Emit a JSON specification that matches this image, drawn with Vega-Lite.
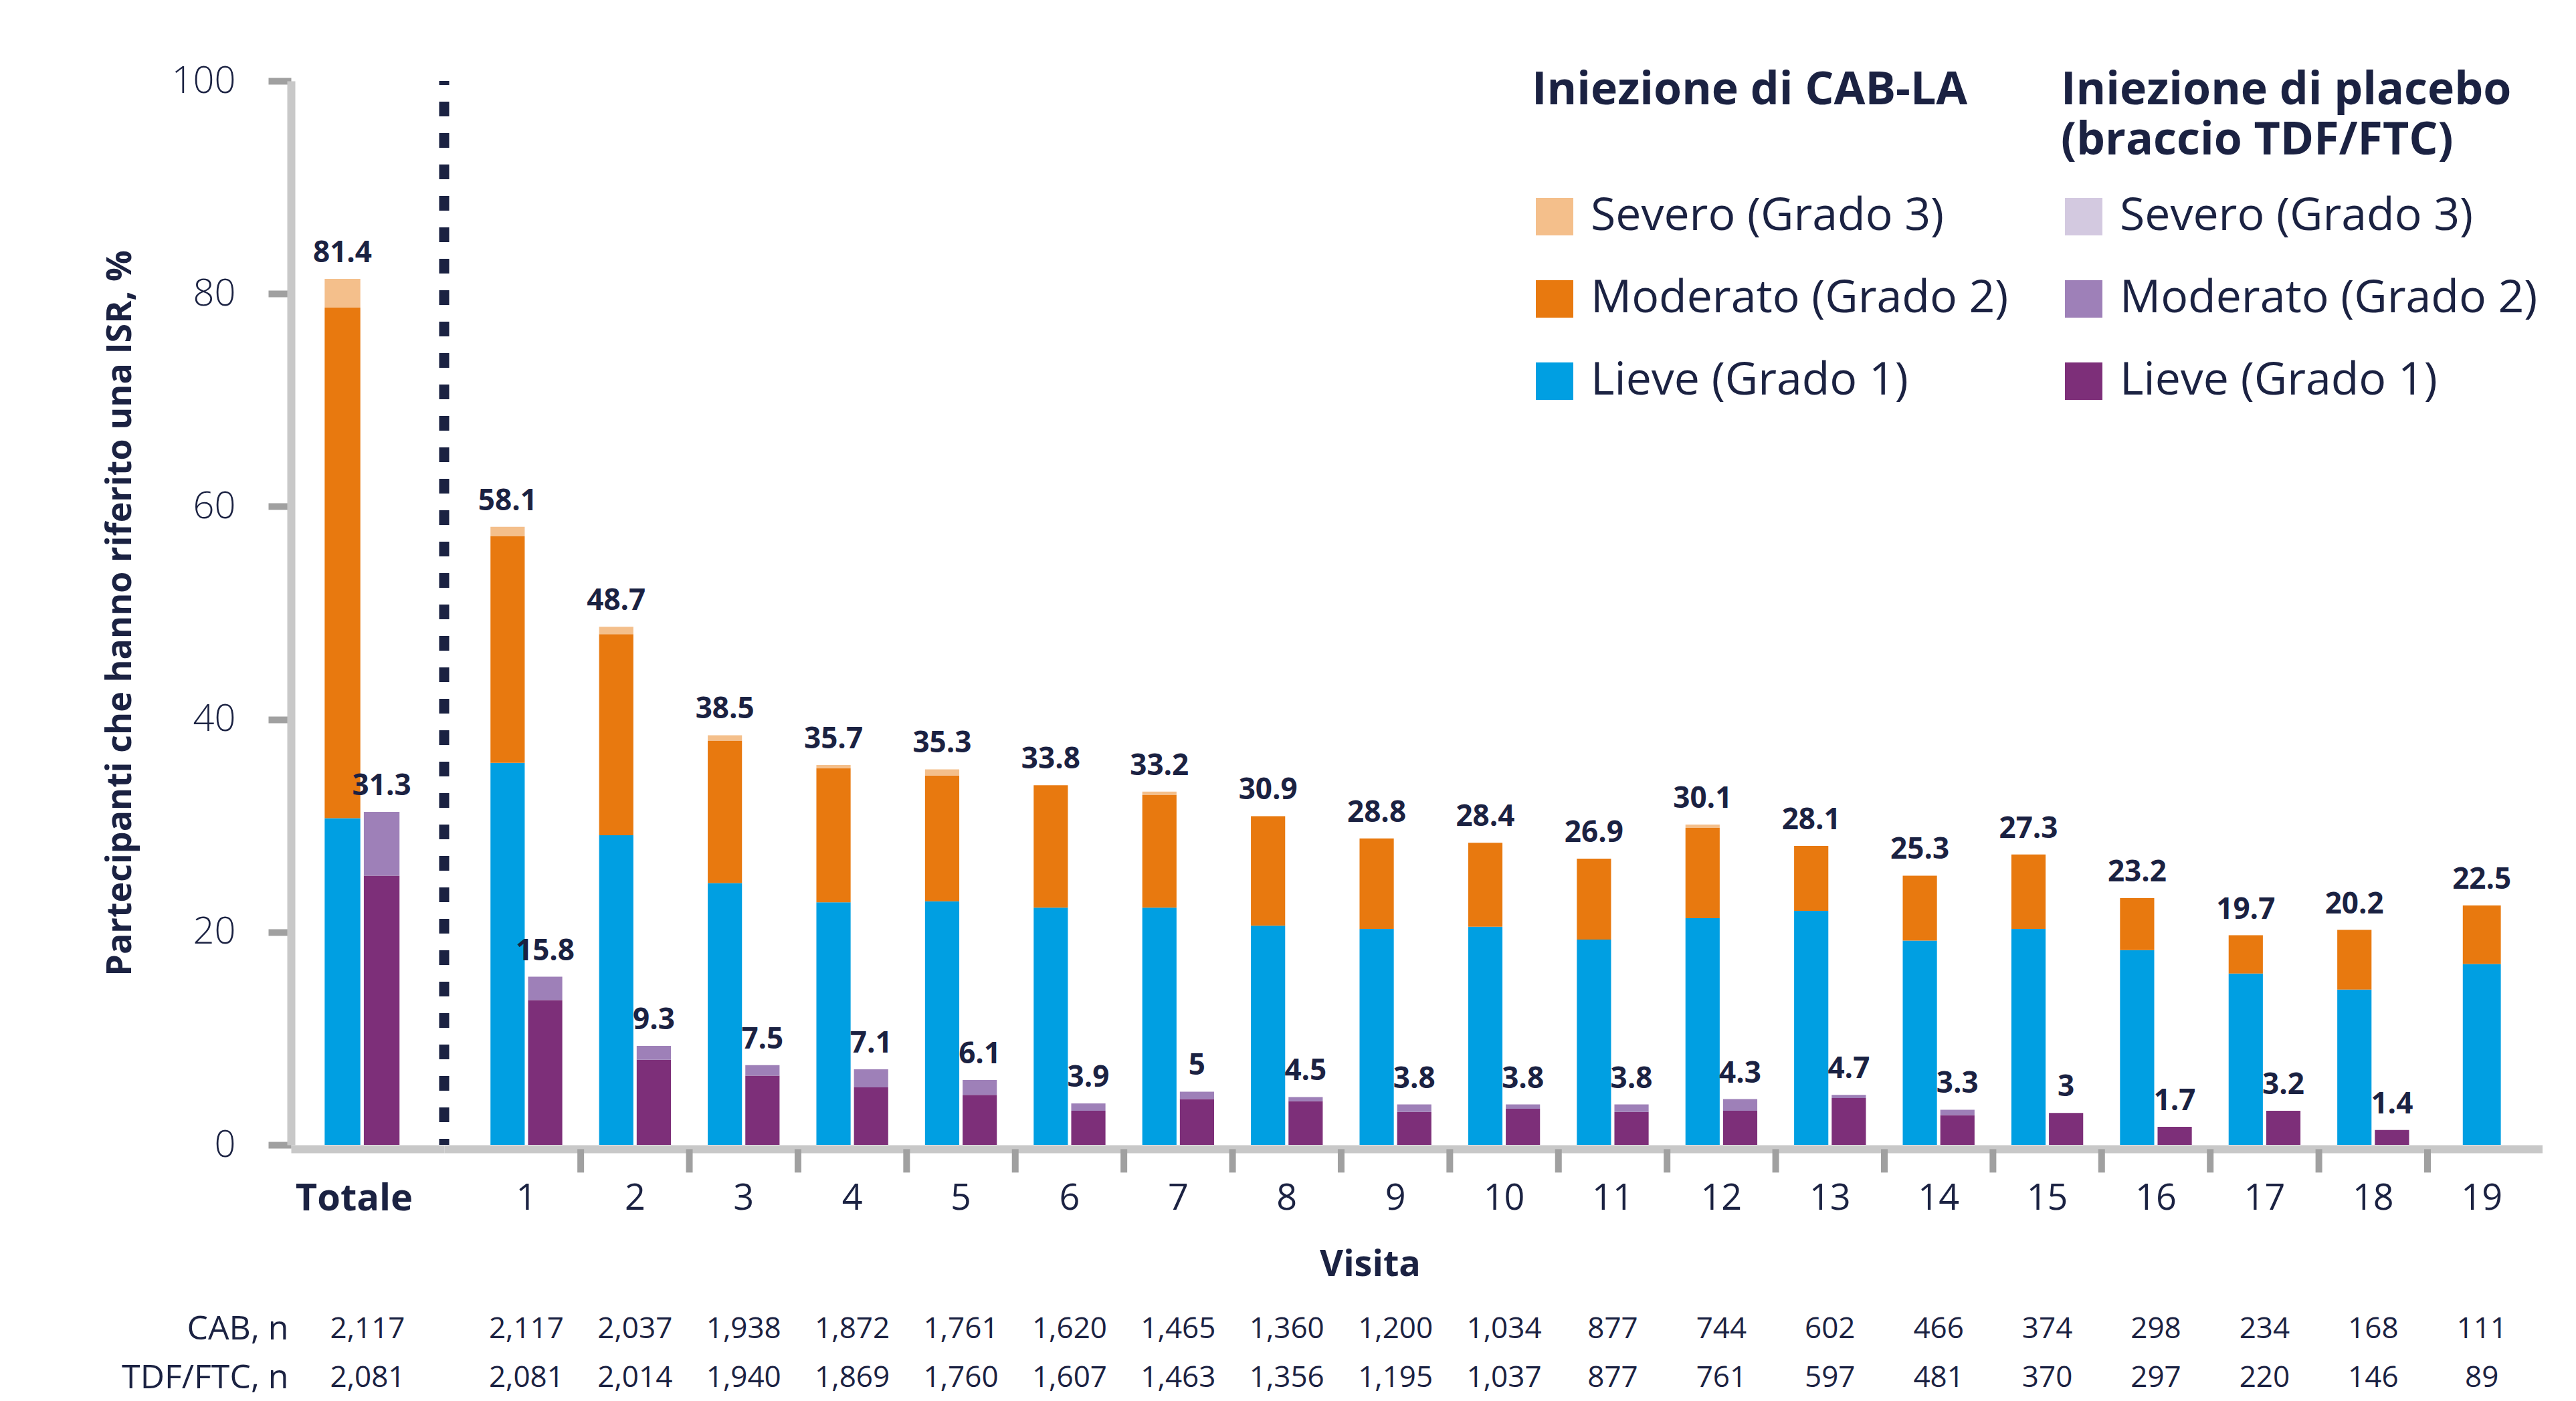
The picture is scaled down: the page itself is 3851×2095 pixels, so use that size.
{
  "$schema": "https://vega.github.io/schema/vega-lite/v6.json",
  "background": "white",
  "padding": {"left": 153, "top": 93, "right": 0, "bottom": 0},
  "config": {
    "font": "Open Sans",
    "view": {"stroke": null},
    "text": {"color": "#1b2242"},
    "axis": {"labelColor": "#1b2242", "titleColor": "#1b2242", "grid": false},
    "legend": {
      "orient": "none",
      "symbolType": "square",
      "symbolSize": 3136,
      "symbolStrokeWidth": 0,
      "symbolOpacity": 1,
      "titleFontSize": 68,
      "titleFontWeight": "bold",
      "titleColor": "#1b2242",
      "titleLineHeight": 75,
      "titleLimit": 3000,
      "titlePadding": 45,
      "labelFontSize": 68,
      "labelColor": "#1b2242",
      "labelLimit": 3000,
      "labelOffset": 20,
      "rowPadding": 55,
      "padding": 0
    }
  },
  "datasets": {
    "cab": [
      {"visit": "Totale", "arm": "CAB", "grade": "Lieve (Grado 1)", "value": 30.7},
      {"visit": "Totale", "arm": "CAB", "grade": "Moderato (Grado 2)", "value": 48.0},
      {"visit": "Totale", "arm": "CAB", "grade": "Severo (Grado 3)", "value": 2.7},
      {"visit": "1", "arm": "CAB", "grade": "Lieve (Grado 1)", "value": 35.9},
      {"visit": "1", "arm": "CAB", "grade": "Moderato (Grado 2)", "value": 21.3},
      {"visit": "1", "arm": "CAB", "grade": "Severo (Grado 3)", "value": 0.9},
      {"visit": "2", "arm": "CAB", "grade": "Lieve (Grado 1)", "value": 29.1},
      {"visit": "2", "arm": "CAB", "grade": "Moderato (Grado 2)", "value": 18.9},
      {"visit": "2", "arm": "CAB", "grade": "Severo (Grado 3)", "value": 0.7},
      {"visit": "3", "arm": "CAB", "grade": "Lieve (Grado 1)", "value": 24.6},
      {"visit": "3", "arm": "CAB", "grade": "Moderato (Grado 2)", "value": 13.4},
      {"visit": "3", "arm": "CAB", "grade": "Severo (Grado 3)", "value": 0.5},
      {"visit": "4", "arm": "CAB", "grade": "Lieve (Grado 1)", "value": 22.8},
      {"visit": "4", "arm": "CAB", "grade": "Moderato (Grado 2)", "value": 12.6},
      {"visit": "4", "arm": "CAB", "grade": "Severo (Grado 3)", "value": 0.3},
      {"visit": "5", "arm": "CAB", "grade": "Lieve (Grado 1)", "value": 22.9},
      {"visit": "5", "arm": "CAB", "grade": "Moderato (Grado 2)", "value": 11.8},
      {"visit": "5", "arm": "CAB", "grade": "Severo (Grado 3)", "value": 0.6},
      {"visit": "6", "arm": "CAB", "grade": "Lieve (Grado 1)", "value": 22.3},
      {"visit": "6", "arm": "CAB", "grade": "Moderato (Grado 2)", "value": 11.5},
      {"visit": "7", "arm": "CAB", "grade": "Lieve (Grado 1)", "value": 22.3},
      {"visit": "7", "arm": "CAB", "grade": "Moderato (Grado 2)", "value": 10.6},
      {"visit": "7", "arm": "CAB", "grade": "Severo (Grado 3)", "value": 0.3},
      {"visit": "8", "arm": "CAB", "grade": "Lieve (Grado 1)", "value": 20.6},
      {"visit": "8", "arm": "CAB", "grade": "Moderato (Grado 2)", "value": 10.3},
      {"visit": "9", "arm": "CAB", "grade": "Lieve (Grado 1)", "value": 20.3},
      {"visit": "9", "arm": "CAB", "grade": "Moderato (Grado 2)", "value": 8.5},
      {"visit": "10", "arm": "CAB", "grade": "Lieve (Grado 1)", "value": 20.5},
      {"visit": "10", "arm": "CAB", "grade": "Moderato (Grado 2)", "value": 7.9},
      {"visit": "11", "arm": "CAB", "grade": "Lieve (Grado 1)", "value": 19.3},
      {"visit": "11", "arm": "CAB", "grade": "Moderato (Grado 2)", "value": 7.6},
      {"visit": "12", "arm": "CAB", "grade": "Lieve (Grado 1)", "value": 21.3},
      {"visit": "12", "arm": "CAB", "grade": "Moderato (Grado 2)", "value": 8.5},
      {"visit": "12", "arm": "CAB", "grade": "Severo (Grado 3)", "value": 0.3},
      {"visit": "13", "arm": "CAB", "grade": "Lieve (Grado 1)", "value": 22.0},
      {"visit": "13", "arm": "CAB", "grade": "Moderato (Grado 2)", "value": 6.1},
      {"visit": "14", "arm": "CAB", "grade": "Lieve (Grado 1)", "value": 19.2},
      {"visit": "14", "arm": "CAB", "grade": "Moderato (Grado 2)", "value": 6.1},
      {"visit": "15", "arm": "CAB", "grade": "Lieve (Grado 1)", "value": 20.3},
      {"visit": "15", "arm": "CAB", "grade": "Moderato (Grado 2)", "value": 7.0},
      {"visit": "16", "arm": "CAB", "grade": "Lieve (Grado 1)", "value": 18.3},
      {"visit": "16", "arm": "CAB", "grade": "Moderato (Grado 2)", "value": 4.9},
      {"visit": "17", "arm": "CAB", "grade": "Lieve (Grado 1)", "value": 16.1},
      {"visit": "17", "arm": "CAB", "grade": "Moderato (Grado 2)", "value": 3.6},
      {"visit": "18", "arm": "CAB", "grade": "Lieve (Grado 1)", "value": 14.6},
      {"visit": "18", "arm": "CAB", "grade": "Moderato (Grado 2)", "value": 5.6},
      {"visit": "19", "arm": "CAB", "grade": "Lieve (Grado 1)", "value": 17.0},
      {"visit": "19", "arm": "CAB", "grade": "Moderato (Grado 2)", "value": 5.5}
    ],
    "tdf": [
      {"visit": "Totale", "arm": "TDF", "grado": "Lieve (Grado 1)", "value": 25.3},
      {"visit": "Totale", "arm": "TDF", "grado": "Moderato (Grado 2)", "value": 6.0},
      {"visit": "1", "arm": "TDF", "grado": "Lieve (Grado 1)", "value": 13.6},
      {"visit": "1", "arm": "TDF", "grado": "Moderato (Grado 2)", "value": 2.2},
      {"visit": "2", "arm": "TDF", "grado": "Lieve (Grado 1)", "value": 8.0},
      {"visit": "2", "arm": "TDF", "grado": "Moderato (Grado 2)", "value": 1.3},
      {"visit": "3", "arm": "TDF", "grado": "Lieve (Grado 1)", "value": 6.5},
      {"visit": "3", "arm": "TDF", "grado": "Moderato (Grado 2)", "value": 1.0},
      {"visit": "4", "arm": "TDF", "grado": "Lieve (Grado 1)", "value": 5.4},
      {"visit": "4", "arm": "TDF", "grado": "Moderato (Grado 2)", "value": 1.7},
      {"visit": "5", "arm": "TDF", "grado": "Lieve (Grado 1)", "value": 4.7},
      {"visit": "5", "arm": "TDF", "grado": "Moderato (Grado 2)", "value": 1.4},
      {"visit": "6", "arm": "TDF", "grado": "Lieve (Grado 1)", "value": 3.2},
      {"visit": "6", "arm": "TDF", "grado": "Moderato (Grado 2)", "value": 0.7},
      {"visit": "7", "arm": "TDF", "grado": "Lieve (Grado 1)", "value": 4.3},
      {"visit": "7", "arm": "TDF", "grado": "Moderato (Grado 2)", "value": 0.7},
      {"visit": "8", "arm": "TDF", "grado": "Lieve (Grado 1)", "value": 4.1},
      {"visit": "8", "arm": "TDF", "grado": "Moderato (Grado 2)", "value": 0.4},
      {"visit": "9", "arm": "TDF", "grado": "Lieve (Grado 1)", "value": 3.1},
      {"visit": "9", "arm": "TDF", "grado": "Moderato (Grado 2)", "value": 0.7},
      {"visit": "10", "arm": "TDF", "grado": "Lieve (Grado 1)", "value": 3.4},
      {"visit": "10", "arm": "TDF", "grado": "Moderato (Grado 2)", "value": 0.4},
      {"visit": "11", "arm": "TDF", "grado": "Lieve (Grado 1)", "value": 3.1},
      {"visit": "11", "arm": "TDF", "grado": "Moderato (Grado 2)", "value": 0.7},
      {"visit": "12", "arm": "TDF", "grado": "Lieve (Grado 1)", "value": 3.2},
      {"visit": "12", "arm": "TDF", "grado": "Moderato (Grado 2)", "value": 1.1},
      {"visit": "13", "arm": "TDF", "grado": "Lieve (Grado 1)", "value": 4.4},
      {"visit": "13", "arm": "TDF", "grado": "Moderato (Grado 2)", "value": 0.3},
      {"visit": "14", "arm": "TDF", "grado": "Lieve (Grado 1)", "value": 2.8},
      {"visit": "14", "arm": "TDF", "grado": "Moderato (Grado 2)", "value": 0.5},
      {"visit": "15", "arm": "TDF", "grado": "Lieve (Grado 1)", "value": 3.0},
      {"visit": "16", "arm": "TDF", "grado": "Lieve (Grado 1)", "value": 1.7},
      {"visit": "17", "arm": "TDF", "grado": "Lieve (Grado 1)", "value": 3.2},
      {"visit": "18", "arm": "TDF", "grado": "Lieve (Grado 1)", "value": 1.4}
    ],
    "totals": [
      {"visit": "Totale", "arm": "CAB", "total": 81.4}, {"visit": "Totale", "arm": "TDF", "total": 31.3},
      {"visit": "1", "arm": "CAB", "total": 58.1}, {"visit": "1", "arm": "TDF", "total": 15.8},
      {"visit": "2", "arm": "CAB", "total": 48.7}, {"visit": "2", "arm": "TDF", "total": 9.3},
      {"visit": "3", "arm": "CAB", "total": 38.5}, {"visit": "3", "arm": "TDF", "total": 7.5},
      {"visit": "4", "arm": "CAB", "total": 35.7}, {"visit": "4", "arm": "TDF", "total": 7.1},
      {"visit": "5", "arm": "CAB", "total": 35.3}, {"visit": "5", "arm": "TDF", "total": 6.1},
      {"visit": "6", "arm": "CAB", "total": 33.8}, {"visit": "6", "arm": "TDF", "total": 3.9},
      {"visit": "7", "arm": "CAB", "total": 33.2}, {"visit": "7", "arm": "TDF", "total": 5},
      {"visit": "8", "arm": "CAB", "total": 30.9}, {"visit": "8", "arm": "TDF", "total": 4.5},
      {"visit": "9", "arm": "CAB", "total": 28.8}, {"visit": "9", "arm": "TDF", "total": 3.8},
      {"visit": "10", "arm": "CAB", "total": 28.4}, {"visit": "10", "arm": "TDF", "total": 3.8},
      {"visit": "11", "arm": "CAB", "total": 26.9}, {"visit": "11", "arm": "TDF", "total": 3.8},
      {"visit": "12", "arm": "CAB", "total": 30.1}, {"visit": "12", "arm": "TDF", "total": 4.3},
      {"visit": "13", "arm": "CAB", "total": 28.1}, {"visit": "13", "arm": "TDF", "total": 4.7},
      {"visit": "14", "arm": "CAB", "total": 25.3}, {"visit": "14", "arm": "TDF", "total": 3.3},
      {"visit": "15", "arm": "CAB", "total": 27.3}, {"visit": "15", "arm": "TDF", "total": 3},
      {"visit": "16", "arm": "CAB", "total": 23.2}, {"visit": "16", "arm": "TDF", "total": 1.7},
      {"visit": "17", "arm": "CAB", "total": 19.7}, {"visit": "17", "arm": "TDF", "total": 3.2},
      {"visit": "18", "arm": "CAB", "total": 20.2}, {"visit": "18", "arm": "TDF", "total": 1.4},
      {"visit": "19", "arm": "CAB", "total": 22.5}
    ],
    "table": [
      {"visit": "Totale", "row": "CAB, n", "n": 2117}, {"visit": "Totale", "row": "TDF/FTC, n", "n": 2081},
      {"visit": "1", "row": "CAB, n", "n": 2117}, {"visit": "1", "row": "TDF/FTC, n", "n": 2081},
      {"visit": "2", "row": "CAB, n", "n": 2037}, {"visit": "2", "row": "TDF/FTC, n", "n": 2014},
      {"visit": "3", "row": "CAB, n", "n": 1938}, {"visit": "3", "row": "TDF/FTC, n", "n": 1940},
      {"visit": "4", "row": "CAB, n", "n": 1872}, {"visit": "4", "row": "TDF/FTC, n", "n": 1869},
      {"visit": "5", "row": "CAB, n", "n": 1761}, {"visit": "5", "row": "TDF/FTC, n", "n": 1760},
      {"visit": "6", "row": "CAB, n", "n": 1620}, {"visit": "6", "row": "TDF/FTC, n", "n": 1607},
      {"visit": "7", "row": "CAB, n", "n": 1465}, {"visit": "7", "row": "TDF/FTC, n", "n": 1463},
      {"visit": "8", "row": "CAB, n", "n": 1360}, {"visit": "8", "row": "TDF/FTC, n", "n": 1356},
      {"visit": "9", "row": "CAB, n", "n": 1200}, {"visit": "9", "row": "TDF/FTC, n", "n": 1195},
      {"visit": "10", "row": "CAB, n", "n": 1034}, {"visit": "10", "row": "TDF/FTC, n", "n": 1037},
      {"visit": "11", "row": "CAB, n", "n": 877}, {"visit": "11", "row": "TDF/FTC, n", "n": 877},
      {"visit": "12", "row": "CAB, n", "n": 744}, {"visit": "12", "row": "TDF/FTC, n", "n": 761},
      {"visit": "13", "row": "CAB, n", "n": 602}, {"visit": "13", "row": "TDF/FTC, n", "n": 597},
      {"visit": "14", "row": "CAB, n", "n": 466}, {"visit": "14", "row": "TDF/FTC, n", "n": 481},
      {"visit": "15", "row": "CAB, n", "n": 374}, {"visit": "15", "row": "TDF/FTC, n", "n": 370},
      {"visit": "16", "row": "CAB, n", "n": 298}, {"visit": "16", "row": "TDF/FTC, n", "n": 297},
      {"visit": "17", "row": "CAB, n", "n": 234}, {"visit": "17", "row": "TDF/FTC, n", "n": 220},
      {"visit": "18", "row": "CAB, n", "n": 168}, {"visit": "18", "row": "TDF/FTC, n", "n": 146},
      {"visit": "19", "row": "CAB, n", "n": 111}, {"visit": "19", "row": "TDF/FTC, n", "n": 89}
    ]
  },
  "columns": 2,
  "spacing": {"row": 239, "column": 0},
  "bounds": "flush",
  "align": "each",
  "resolve": {"scale": {"xOffset": "independent", "x": "independent", "y": "independent"}},
  "concat": [
    {
      "width": 229,
      "height": 1591,
      "layer": [
        {
          "data": {"name": "cab"},
          "transform": [{"filter": "datum.visit === 'Totale'"}],
          "mark": {"type": "bar"},
          "encoding": {
            "x": {"field": "visit", "type": "nominal", "scale": {"type": "band", "domain": ["Totale"], "paddingInner": 0, "paddingOuter": 0},
              "axis": {"title": null, "labelAngle": 0, "labelFontSize": 56, "labelFontWeight": "bold", "labelOffset": -20, "labelPadding": 47,
                "ticks": false, "domainColor": "#c8c8c8", "domainWidth": 12, "offset": 6}},
            "xOffset": {"field": "arm", "type": "nominal", "scale": {"domain": ["CAB", "TDF"], "paddingInner": 0.089, "paddingOuter": 1.089, "align": 0.43}},
            "y": {"field": "value", "type": "quantitative", "stack": "zero", "scale": {"domain": [0, 100], "nice": false},
              "axis": {"values": [0, 20, 40, 60, 80, 100], "title": "Partecipanti che hanno riferito una ISR, %", "titleFontSize": 52, "titleFontWeight": "bold",
                "titlePadding": 50, "labelFontSize": 56, "labelFontWeight": 300, "labelPadding": 49, "tickSize": 34, "tickWidth": 10, "tickColor": "#a0a0a0",
                "domainColor": "#c8c8c8", "domainWidth": 12}},
            "fill": {"field": "grade", "type": "nominal",
              "scale": {"domain": ["Severo (Grado 3)", "Moderato (Grado 2)", "Lieve (Grado 1)"], "range": ["#f4bf8b", "#e8790f", "#009fe2"]},
              "legend": {"title": ["Iniezione di CAB-LA", " "], "legendX": 1855, "legendY": -19}},
            "order": {"field": "grade", "sort": "ascending"}
          }
        },
        {
          "data": {"name": "tdf"},
          "transform": [{"filter": "datum.visit === 'Totale'"}],
          "mark": {"type": "bar"},
          "encoding": {
            "x": {"field": "visit", "type": "nominal"},
            "xOffset": {"field": "arm", "type": "nominal"},
            "y": {"field": "value", "type": "quantitative", "stack": "zero"},
            "color": {"field": "grado", "type": "nominal",
              "scale": {"domain": ["Lieve (Grado 1)", "Moderato (Grado 2)", "Severo (Grado 3)"], "range": ["#7d2f79", "#9e80b8", "#d3c9e0"]},
              "legend": {"title": ["Iniezione di placebo", "(braccio TDF/FTC)"], "values": ["Severo (Grado 3)", "Moderato (Grado 2)", "Lieve (Grado 1)"], "legendX": 2646, "legendY": -19}},
            "order": {"field": "grado", "sort": "ascending"}
          }
        },
        {
          "data": {"name": "totals"},
          "transform": [{"filter": "datum.visit === 'Totale'"}],
          "mark": {"type": "text", "fontSize": 44, "fontWeight": "bold", "baseline": "alphabetic", "dy": -25},
          "encoding": {
            "x": {"field": "visit", "type": "nominal"},
            "xOffset": {"field": "arm", "type": "nominal"},
            "y": {"field": "total", "type": "quantitative"},
            "text": {"field": "total", "type": "quantitative"}
          }
        },
        {
          "data": {"values": [{}]},
          "mark": {"type": "rule", "strokeDash": [22, 25], "strokeDashOffset": 16, "strokeWidth": 15, "color": "#1b2242"},
          "encoding": {
            "x": {"datum": "Totale", "bandPosition": 1},
            "y": {"datum": 100},
            "y2": {"datum": 0}
          }
        }
      ]
    },
    {
      "width": 3137,
      "height": 1591,
      "layer": [
        {
          "data": {"name": "cab"},
          "transform": [{"filter": "datum.visit !== 'Totale' && datum.visit !== '19'"}],
          "mark": {"type": "bar"},
          "encoding": {
            "x": {"field": "visit", "type": "nominal",
              "scale": {"type": "band", "domain": ["1","2","3","4","5","6","7","8","9","10","11","12","13","14","15","16","17","18","19"], "paddingInner": 0, "paddingOuter": 0.158, "align": 0.813},
              "axis": {"title": "Visita", "titleFontSize": 54, "titleFontWeight": "bold", "titleX": 1384, "titlePadding": 45,
                "labelAngle": 0, "labelFontSize": 54, "labelPadding": 47, "ticks": false,
                "domainColor": "#c8c8c8", "domainWidth": 12, "offset": 6}},
            "xOffset": {"field": "arm", "type": "nominal", "scale": {"domain": ["CAB", "TDF"], "paddingInner": 0.089, "paddingOuter": 0.49, "align": 0.5}},
            "y": {"field": "value", "type": "quantitative", "stack": "zero", "scale": {"domain": [0, 100], "nice": false}, "axis": null},
            "fill": {"field": "grade", "type": "nominal",
              "scale": {"domain": ["Severo (Grado 3)", "Moderato (Grado 2)", "Lieve (Grado 1)"], "range": ["#f4bf8b", "#e8790f", "#009fe2"]},
              "legend": {"title": ["Iniezione di CAB-LA", " "], "legendX": 1855, "legendY": -19}},
            "order": {"field": "grade", "sort": "ascending"}
          }
        },
        {
          "data": {"name": "cab"},
          "transform": [{"filter": "datum.visit === '19'"}],
          "mark": {"type": "bar", "width": {"band": 0.35}},
          "encoding": {
            "x": {"field": "visit", "type": "nominal"},
            "y": {"field": "value", "type": "quantitative", "stack": "zero"},
            "fill": {"field": "grade", "type": "nominal"},
            "order": {"field": "grade", "sort": "ascending"}
          }
        },
        {
          "data": {"name": "tdf"},
          "transform": [{"filter": "datum.visit !== 'Totale'"}],
          "mark": {"type": "bar"},
          "encoding": {
            "x": {"field": "visit", "type": "nominal"},
            "xOffset": {"field": "arm", "type": "nominal"},
            "y": {"field": "value", "type": "quantitative", "stack": "zero"},
            "color": {"field": "grado", "type": "nominal",
              "scale": {"domain": ["Lieve (Grado 1)", "Moderato (Grado 2)", "Severo (Grado 3)"], "range": ["#7d2f79", "#9e80b8", "#d3c9e0"]},
              "legend": {"title": ["Iniezione di placebo", "(braccio TDF/FTC)"], "values": ["Severo (Grado 3)", "Moderato (Grado 2)", "Lieve (Grado 1)"], "legendX": 2646, "legendY": -19}},
            "order": {"field": "grado", "sort": "ascending"}
          }
        },
        {
          "data": {"name": "totals"},
          "transform": [{"filter": "datum.visit !== 'Totale' && datum.visit !== '19'"}],
          "mark": {"type": "text", "fontSize": 44, "fontWeight": "bold", "baseline": "alphabetic", "dy": -25},
          "encoding": {
            "x": {"field": "visit", "type": "nominal"},
            "xOffset": {"field": "arm", "type": "nominal"},
            "y": {"field": "total", "type": "quantitative"},
            "text": {"field": "total", "type": "quantitative"}
          }
        },
        {
          "data": {"name": "totals"},
          "transform": [{"filter": "datum.visit === '19'"}],
          "mark": {"type": "text", "fontSize": 44, "fontWeight": "bold", "baseline": "alphabetic", "dy": -25},
          "encoding": {
            "x": {"field": "visit", "type": "nominal"},
            "y": {"field": "total", "type": "quantitative"},
            "text": {"field": "total", "type": "quantitative"}
          }
        },
        {
          "data": {"name": "table"},
          "transform": [{"filter": "datum.row === 'CAB, n' && datum.visit !== 'Totale' && datum.visit !== '1'"}],
          "mark": {"type": "rule", "color": "#a0a0a0", "strokeWidth": 10},
          "encoding": {
            "x": {"field": "visit", "type": "nominal", "bandPosition": 0},
            "y": {"datum": -0.4},
            "y2": {"datum": -2.6}
          }
        }
      ]
    },
    {
      "width": 229,
      "height": 146,
      "data": {"name": "table"},
      "transform": [{"filter": "datum.visit === 'Totale'"}],
      "mark": {"type": "text", "fontSize": 44},
      "encoding": {
        "x": {"field": "visit", "type": "nominal", "scale": {"type": "band", "domain": ["Totale"], "paddingInner": 0, "paddingOuter": 0}, "axis": null},
        "y": {"field": "row", "type": "nominal", "scale": {"type": "band", "domain": ["CAB, n", "TDF/FTC, n"], "paddingInner": 0, "paddingOuter": 0},
          "axis": {"title": null, "domain": false, "ticks": false, "labelPadding": 4, "labelFontSize": 50, "labelLimit": 1000}},
        "text": {"field": "n", "type": "quantitative", "format": ","}
      }
    },
    {
      "width": 3137,
      "height": 146,
      "data": {"name": "table"},
      "transform": [{"filter": "datum.visit !== 'Totale'"}],
      "mark": {"type": "text", "fontSize": 44},
      "encoding": {
        "x": {"field": "visit", "type": "nominal",
          "scale": {"type": "band", "domain": ["1","2","3","4","5","6","7","8","9","10","11","12","13","14","15","16","17","18","19"], "paddingInner": 0, "paddingOuter": 0.158, "align": 0.813},
          "axis": null},
        "y": {"field": "row", "type": "nominal", "scale": {"type": "band", "domain": ["CAB, n", "TDF/FTC, n"], "paddingInner": 0, "paddingOuter": 0}, "axis": null},
        "text": {"field": "n", "type": "quantitative", "format": ","}
      }
    }
  ]
}
